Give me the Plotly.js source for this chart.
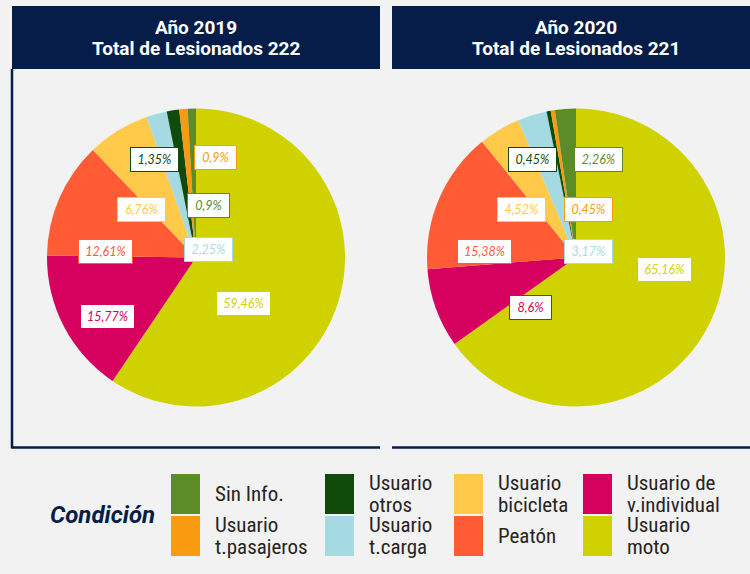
<!DOCTYPE html>
<html>
<head>
<meta charset="utf-8">
<script src="https://cdn.plot.ly/plotly-3.0.1.min.js"></script>
<style>html,body{margin:0;padding:0;background:#F2F2F2;}#chart{width:750px;height:574px;}</style>
</head>
<body>
<div id="chart"></div>
<script>
// ---- Data ----
const categories = ["Usuario moto", "Usuario de v.individual", "Peatón", "Usuario bicicleta", "Usuario t.carga", "Usuario otros", "Usuario t.pasajeros", "Sin Info."];
const legendLines = [["Usuario", "moto"], ["Usuario de", "v.individual"], ["Peatón"], ["Usuario", "bicicleta"], ["Usuario", "t.carga"], ["Usuario", "otros"], ["Usuario", "t.pasajeros"], ["Sin Info."]];
const lesionados2019 = [132, 35, 28, 15, 5, 3, 2, 2];
const lesionados2020 = [144, 19, 34, 10, 7, 1, 1, 5];
const years = ["2019", "2020"];
const colors = ["#D0D200", "#D6005E", "#FF5B35", "#FFC94A", "#A6DAE3", "#114B0B", "#F99B11", "#5B8C28"];

// ---- Layout helpers (pixel -> paper) ----
const W = 750, H = 574;
const px = x => x / W;
const py = y => 1 - y / H;
const navy = "#071D49";

const pies = [
  {values: lesionados2019, cx: 196, cy: 257.5},
  {values: lesionados2020, cx: 576, cy: 257.5}
];
const R = 149;
// label box offsets (px) from pie centre, in category order
const labelOffsets = [
  [[47, 45.5], [-88, 58.5], [-91, -6.5], [-55, -48.5], [12, -8.5], [-42, -98.5], [20, -99.5], [12, -51.5]],
  [[88, 11.5], [-46, 49.5], [-91, -6.5], [-55, -48.5], [12, -6.5], [-44, -97.5], [12, -48.5], [22, -98.5]]
];

function fmtPct(v, total) {
  let s = (v / total * 100).toFixed(2);
  s = s.replace(/0+$/, "").replace(/\.$/, "");
  return s.replace(".", ",") + "%";
}

const traces = pies.map((p, k) => ({
  type: "pie",
  labels: categories,
  values: p.values,
  sort: false,
  direction: "clockwise",
  rotation: 0,
  marker: {colors: colors, line: {width: 0}},
  textinfo: "none",
  hoverinfo: "label+value+percent",
  showlegend: false,
  domain: {x: [px(p.cx - R), px(p.cx + R)], y: [py(p.cy + R), py(p.cy - R)]}
}));

const shapes = [];
const annotations = [];

// title boxes
const panels = [{x0: 12, x1: 380, tx: 196}, {x0: 392, x1: 750, tx: 576}];
panels.forEach((pn, k) => {
  shapes.push({type: "rect", xref: "paper", yref: "paper", x0: px(pn.x0), x1: px(pn.x1), y0: py(69), y1: py(6), fillcolor: navy, line: {width: 0}, layer: "below"});
  const total = pies[k].values.reduce((a, b) => a + b, 0);
  const lines = ["Año " + years[k], "Total de Lesionados " + total];
  lines.forEach((t, li) => {
    annotations.push({xref: "paper", yref: "paper", x: px(pn.tx), y: py(27.5 + li * 21), xanchor: "center", yanchor: "middle", showarrow: false,
      text: "<b>" + t + "</b>", font: {family: "Roboto", size: 19, color: "#FFFFFF"}});
  });
  // bottom border line
  shapes.push({type: "line", xref: "paper", yref: "paper", x0: px(pn.x0), x1: px(pn.x1), y0: py(447.5), y1: py(447.5), line: {color: navy, width: 2.5}});
});
// left panel vertical border
shapes.push({type: "line", xref: "paper", yref: "paper", x0: px(12), x1: px(12), y0: py(69), y1: py(448.5), line: {color: navy, width: 2.5}});

// data labels
pies.forEach((p, k) => {
  const total = p.values.reduce((a, b) => a + b, 0);
  p.values.forEach((v, i) => {
    const txt = fmtPct(v, total);
    const off = labelOffsets[k][i];
    annotations.push({xref: "paper", yref: "paper", x: px(p.cx + off[0]), y: py(p.cy + off[1]), xanchor: "center", yanchor: "middle", showarrow: false,
      text: "<i>" + txt + "</i>", font: {family: "Lato", size: 12.5, color: colors[i]},
      bgcolor: "#FFFFFF", bordercolor: colors[i], borderwidth: 1, borderpad: 4,
      width: txt.length * 6 + 9, height: 15});
  });
});

// custom legend
annotations.push({xref: "paper", yref: "paper", x: px(102.5), y: py(515), xanchor: "center", yanchor: "middle", showarrow: false,
  text: "<b><i>Condición</i></b>", font: {family: "Roboto", size: 24, color: navy}});
const colX = [171, 325, 454, 583];
const rowY = [[474, 514], [516, 556]];
const order = categories.map((c, i) => i).reverse();
const legendFont = {family: "Roboto Condensed, Liberation Sans Narrow, DejaVu Sans Condensed, Roboto", size: 21, color: "#252423"};
order.forEach((ci, j) => {
  const col = Math.floor(j / 2), row = j % 2;
  shapes.push({type: "rect", xref: "paper", yref: "paper", x0: px(colX[col]), x1: px(colX[col] + 29), y0: py(rowY[row][1]), y1: py(rowY[row][0]), fillcolor: colors[ci], line: {width: 0}});
  const mid = (rowY[row][0] + rowY[row][1]) / 2;
  const lines = legendLines[ci];
  lines.forEach((t, li) => {
    const yc = mid + (li - (lines.length - 1) / 2) * 22;
    annotations.push({xref: "paper", yref: "paper", x: px(colX[col] + 42), y: py(yc), xanchor: "left", yanchor: "middle", align: "left", showarrow: false,
      text: t, font: legendFont});
  });
});

const layout = {
  width: W, height: H,
  margin: {l: 0, r: 0, t: 0, b: 0},
  paper_bgcolor: "#F2F2F2",
  plot_bgcolor: "#F2F2F2",
  showlegend: false,
  shapes: shapes,
  annotations: annotations
};

Plotly.newPlot("chart", traces, layout, {displayModeBar: false, staticPlot: true});
</script>
</body>
</html>
